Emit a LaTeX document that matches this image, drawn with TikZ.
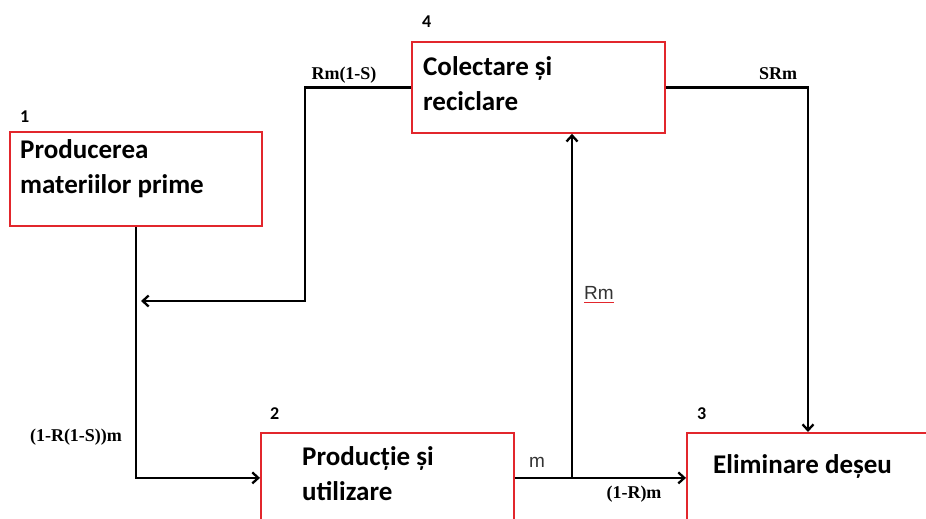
\documentclass[tikz,border=0pt]{standalone}
\usepackage{fontspec}
\setmainfont{Carlito}
\newfontfamily\formfont{Liberation Serif}
\newfontfamily\labfont{Liberation Sans}
\usetikzlibrary{arrows.meta,positioning}
\definecolor{boxred}{RGB}{226,38,44}

\begin{document}
\begin{tikzpicture}[x=1pt, y=1pt, >={Straight Barb[length=6pt,width=11pt]},
        stage/.style={rectangle, draw=boxred, line width=1.8pt, inner sep=0pt, anchor=north west},
        stagetext/.style={anchor=base west, align=left, inner sep=0pt, font=\bfseries\fontsize{27}{35}\selectfont},
        stagenum/.style={anchor=base west, inner sep=0pt, font=\bfseries\fontsize{18}{18}\selectfont},
        flow/.style={draw=black, line width=2.3pt},
        rate/.style={anchor=base, inner sep=0pt, font=\formfont\bfseries\fontsize{18}{18}\selectfont},
        flux/.style={anchor=base, inner sep=0pt, font=\labfont\fontsize{19}{19}\selectfont, text=black!80}]

        \clip (0,0) rectangle (926,-519);

        % stages
        \node[stage, minimum width=252pt, minimum height=94pt] (p1) at (9,-131) {};
        \node[stage, minimum width=253pt, minimum height=91pt] (p4) at (411,-41) {};
        \node[stage, minimum width=253pt, minimum height=90pt] (p2) at (260,-432) {};
        \node[stage, minimum width=270pt, minimum height=90pt] (p3) at (686,-432) {};

        % two-line texts sit on their last line
        \node[stagetext] (p1txt) at ([xshift=11pt,yshift=-62pt]p1.north west) {Producerea\\materiilor prime};
        \node[stagetext] (p4txt) at ([xshift=12pt,yshift=-69pt]p4.north west) {Colectare și\\reciclare};
        \node[stagetext] (p2txt) at ([xshift=42pt,yshift=-68pt]p2.north west) {Producție și\\utilizare};
        \node[stagetext] (p3txt) at ([xshift=27pt,yshift=-41pt]p3.north west) {Eliminare deșeu};

        \node[stagenum] (n1) at ([xshift=11pt,yshift=9pt]p1.north west) {1};
        \node[stagenum] (n4) at ([xshift=11pt,yshift=13pt]p4.north west) {4};
        \node[stagenum] (n2) at ([xshift=10pt,yshift=13pt]p2.north west) {2};
        \node[stagenum] (n3) at ([xshift=11pt,yshift=13pt]p3.north west) {3};

        % bends
        \coordinate (retbend) at (305,-301);
        \coordinate (retend) at (141,-301);
        \coordinate (srmdrop) at (808,-432);
        \coordinate (split) at (572,-477);

        \draw[flow, ->] (p1.south) |- (p2.west);
        \draw[flow, ->] (p4.west) -| (retbend) -- (retend);
        \draw[flow, ->] (p4.east) -| (srmdrop);
        \draw[flow, ->] (p2.east) -- (p3.west);
        \draw[flow, ->] (split) -- (split |- p4.south);

        % flow labels
        \node[rate] (lrs) at (344,-80) {Rm(1-S)};
        \node[rate] (lsrm) at (778,-79) {SRm};
        \node[rate] (lprod) at (76,-441) {(1-R(1-S))m};
        \node[rate] (lwaste) at (634,-498) {(1-R)m};
        \node[flux] (lm) at (537,-467) {m};
        \node[flux] (lrm) at (599,-299) {Rm};
        \draw[boxred, line width=0.8pt] ([yshift=-3pt]lrm.base west) -- ([yshift=-3pt]lrm.base east);

    \end{tikzpicture}
\end{document}
